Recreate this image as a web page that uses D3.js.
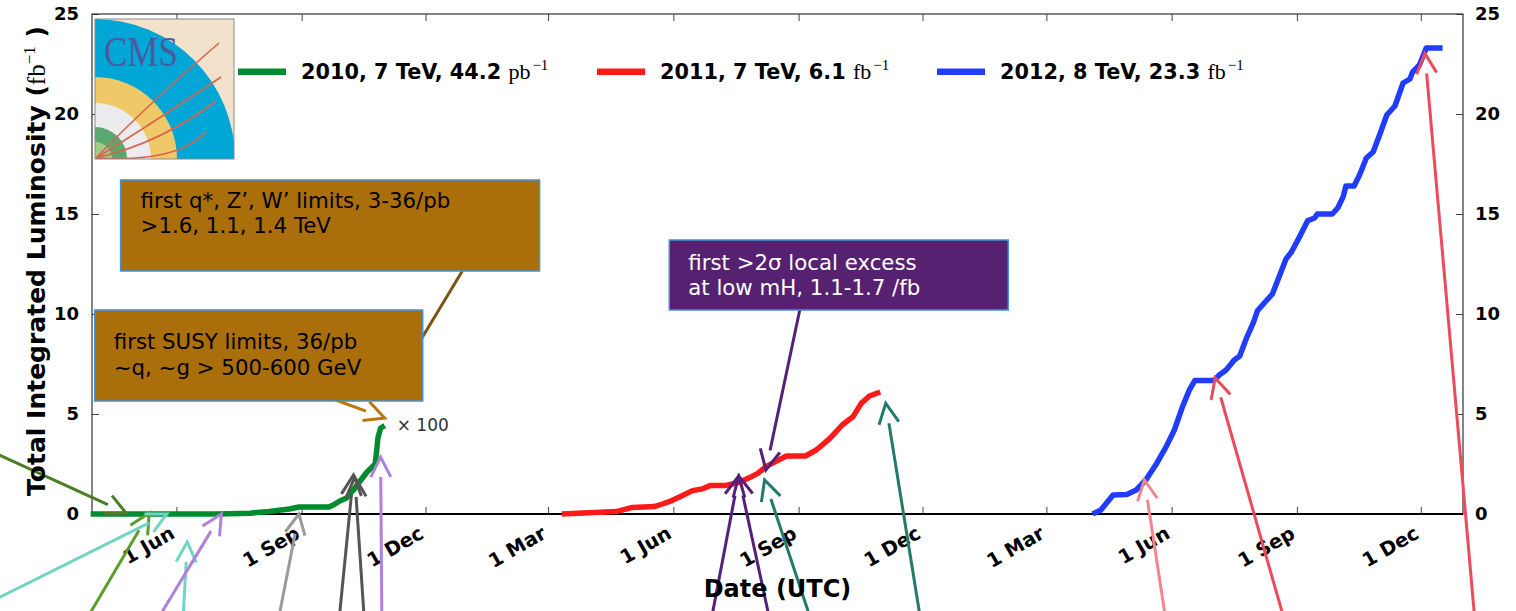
<!DOCTYPE html>
<html>
<head>
<meta charset="utf-8">
<script src="https://cdn.jsdelivr.net/npm/d3@7"></script>
<style>
  body { margin: 0; background: #fff; }
  svg { display: block; }
</style>
</head>
<body>
<svg id="chart" width="1516" height="611"></svg>
<script>
// ---- Cumulative luminosity delivered per year ----
const dates2010 = ["2010-03-30","2010-04-30","2010-05-31","2010-06-30","2010-07-10","2010-07-25","2010-08-08",
  "2010-08-23","2010-08-30","2010-09-21","2010-09-25","2010-09-29","2010-10-04","2010-10-09","2010-10-14",
  "2010-10-19","2010-10-25","2010-10-26","2010-10-27","2010-10-29","2010-11-01"];
const lumi2010pb = [0, 0.01, 0.02, 0.05, 0.1, 0.4, 1.3, 2.5, 3.5, 3.5, 4.8, 6.5, 8.0, 12.0, 16.5,
  21.0, 25.0, 31.0, 38.0, 43.0, 44.2];

const dates2011 = ["2011-03-11","2011-04-20","2011-05-02","2011-05-18","2011-05-24","2011-05-31","2011-06-07",
  "2011-06-15","2011-06-22","2011-06-28","2011-07-09","2011-07-19","2011-07-27","2011-08-02","2011-08-08",
  "2011-08-15","2011-08-23","2011-09-06","2011-09-14","2011-09-24","2011-10-03","2011-10-11","2011-10-17",
  "2011-10-23","2011-10-31"];
const lumi2011fb = [0, 0.12, 0.33, 0.37, 0.5, 0.67, 0.9, 1.17, 1.25, 1.42, 1.42, 1.58, 1.82, 2.03, 2.37,
  2.62, 2.9, 2.9, 3.2, 3.78, 4.45, 4.87, 5.53, 5.9, 6.1];

const dates2012 = ["2012-04-04","2012-04-10","2012-04-19","2012-04-29","2012-05-06","2012-05-13","2012-05-21",
  "2012-05-28","2012-06-03","2012-06-09","2012-06-14","2012-06-18","2012-07-02","2012-07-06","2012-07-11",
  "2012-07-17","2012-07-21","2012-07-26","2012-07-31","2012-08-03","2012-08-08","2012-08-14","2012-08-18",
  "2012-08-24","2012-08-28","2012-09-03","2012-09-09","2012-09-14","2012-09-16","2012-09-27","2012-10-01",
  "2012-10-05","2012-10-07","2012-10-13","2012-10-17","2012-10-22","2012-10-27","2012-11-01","2012-11-06",
  "2012-11-12","2012-11-18","2012-11-23","2012-11-25","2012-11-30","2012-12-05","2012-12-17"];
const lumi2012fb = [0, 0.2, 0.95, 0.98, 1.2, 1.7, 2.53, 3.37, 4.2, 5.37, 6.2, 6.67, 6.67, 6.95, 7.2,
  7.7, 7.9, 8.8, 9.57, 10.16, 10.55, 11.0, 11.7, 12.75, 13.1, 13.87, 14.67, 14.8, 15.0, 15.0, 15.3,
  15.87, 16.4, 16.4, 16.95, 17.8, 18.1, 19.0, 19.95, 20.4, 21.55, 21.75, 22.1, 22.45, 23.3, 23.3];

const runYears = ["2010", "2011", "2012"];
const runEnergies = ["7 TeV", "7 TeV", "8 TeV"];
const runUnits = ["pb", "fb", "fb"];

// 2010 is drawn in fb^-1 multiplied by this factor
const SCALE_2010 = 100;
const PB_PER_FB = 1000;

const xTickDates = ["2010-06-01","2010-09-01","2010-12-01","2011-03-01","2011-06-01","2011-09-01",
  "2011-12-01","2012-03-01","2012-06-01","2012-09-01","2012-12-01"];
const yTickValues = [0, 5, 10, 15, 20, 25];

// Annotation arrows: tail and tip as [date, luminosity]
const arrowTails = [
  ["2010-01-22", 2.95], ["2010-03-18", -6.3], ["2009-12-24", -5.15], ["2010-06-05", -6.3],
  ["2010-05-09", -6.3], ["2010-08-12", -6.3], ["2010-09-27", -6.3], ["2010-10-18", -6.3],
  ["2010-10-30", -6.3], ["2010-12-28", 12.15], ["2010-09-26", 5.7], ["2011-09-02", 10.25],
  ["2011-06-26", -6.3], ["2011-08-14", -6.3], ["2011-09-15", -6.3], ["2011-12-02", -6.3],
  ["2012-05-30", -6.3], ["2012-08-27", -6.3], ["2013-01-11", -6.3]
];
const arrowTips = [
  ["2010-04-25", 0.05], ["2010-05-12", 0.05], ["2010-05-25", 0.0], ["2010-06-09", -1.4],
  ["2010-07-04", 0.0], ["2010-08-30", 0.0], ["2010-10-09", 1.95], ["2010-10-10", 1.85],
  ["2010-10-29", 2.85], ["2010-11-23", 8.2], ["2010-11-01", 4.8], ["2011-08-08", 2.2],
  ["2011-07-19", 1.9], ["2011-07-19", 1.9], ["2011-08-07", 1.7], ["2011-11-04", 5.53],
  ["2012-05-12", 1.7], ["2012-07-03", 6.8], ["2012-12-04", 23.03]
];
const arrowColors = ["#4a7d26", "#5b9d2c", "#6fd6c6", "#6fd6c6", "#b17fdc", "#9a9a9a", "#555555",
  "#555555", "#b17fdc", "#7a5412", "#b7790f", "#55207a", "#55207a", "#55207a", "#23796a", "#23796a",
  "#f3858f", "#ec4b5b", "#ec4b5b"];
const arrowHasHead = arrowTips.map((d, i) => i !== 9);

// Text boxes: top-left corner as [date, luminosity]
const boxAnchors = [["2010-04-21", 16.7], ["2010-04-02", 10.2], ["2011-05-29", 13.7]];
const boxLines = [
  ["first q*, Z\u2019, W\u2019 limits, 3-36/pb", ">1.6, 1.1, 1.4 TeV"],
  ["first SUSY limits, 36/pb", "~q, ~g > 500-600 GeV"],
  ["first >2\u03c3 local excess", "at low mH, 1.1-1.7 /fb"]
];

// ---- Layout ----
const W = 1516, H = 611;
const plot = { left: 92, right: 1463, top: 14, bottom: 514 };
const FONT = "'DejaVu Sans', sans-serif";
const SERIF = "'Liberation Serif', 'DejaVu Serif', serif";

const parseDay = d3.utcParse("%Y-%m-%d");
const x = d3.scaleUtc()
  .domain([parseDay("2010-03-31"), parseDay("2013-01-01")])
  .range([plot.left, plot.right]);
const y = d3.scaleLinear().domain([0, 25]).range([plot.bottom, plot.top]);

const svg = d3.select("#chart");
svg.append("rect").attr("width", W).attr("height", H).attr("fill", "#fff");

const series = [
  { dates: dates2010, values: lumi2010pb.map(v => v / PB_PER_FB * SCALE_2010), total: lumi2010pb, color: "#008c2e" },
  { dates: dates2011, values: lumi2011fb, total: lumi2011fb, color: "#ff1a1a" },
  { dates: dates2012, values: lumi2012fb, total: lumi2012fb, color: "#1f3cff" }
];

// ---- Axes (inward ticks on all four sides) ----
const fmt = d3.utcFormat("%-d %b");
const xt = xTickDates.map(parseDay);

const gBottom = svg.append("g").attr("transform", `translate(0,${plot.bottom})`)
  .call(d3.axisBottom(x).tickValues(xt).tickSize(-7).tickFormat(fmt));
gBottom.select(".domain").remove();
gBottom.selectAll(".tick line").attr("stroke", "#444");
gBottom.selectAll(".tick text")
  .attr("font-family", FONT).attr("font-weight", "bold").attr("font-size", 19.5).attr("fill", "#000")
  .attr("text-anchor", "end").attr("x", 0).attr("y", 0).attr("dy", "0.72em")
  .attr("transform", "translate(-8,11) rotate(-30)");

const gTop = svg.append("g").attr("transform", `translate(0,${plot.top})`)
  .call(d3.axisTop(x).tickValues(xt).tickSize(-7).tickFormat(""));
gTop.select(".domain").remove();
gTop.selectAll(".tick line").attr("stroke", "#444");

const gLeft = svg.append("g").attr("transform", `translate(${plot.left},0)`)
  .call(d3.axisLeft(y).tickValues(yTickValues).tickSize(-7).tickPadding(13));
gLeft.select(".domain").remove();
gLeft.selectAll(".tick line").attr("stroke", "#444");
gLeft.selectAll(".tick text").attr("font-family", FONT).attr("font-weight", "bold")
  .attr("font-size", 18).attr("fill", "#000");

const gRight = svg.append("g").attr("transform", `translate(${plot.right},0)`)
  .call(d3.axisRight(y).tickValues(yTickValues).tickSize(-7).tickPadding(12));
gRight.select(".domain").remove();
gRight.selectAll(".tick line").attr("stroke", "#444");
gRight.selectAll(".tick text").attr("font-family", FONT).attr("font-weight", "bold")
  .attr("font-size", 18).attr("fill", "#000");

// frame
svg.append("rect")
  .attr("x", plot.left).attr("y", plot.top)
  .attr("width", plot.right - plot.left).attr("height", plot.bottom - plot.top)
  .attr("fill", "none").attr("stroke", "#333").attr("stroke-width", 1.2);
svg.append("line")
  .attr("x1", plot.left).attr("x2", plot.right)
  .attr("y1", y(0)).attr("y2", y(0))
  .attr("stroke", "#000").attr("stroke-width", 2.2);

// ---- Curves ----
const line = d3.line().x(d => x(d.date)).y(d => y(d.value));
series.forEach(s => {
  const pts = s.dates.map((d, i) => ({ date: parseDay(d), value: s.values[i] }));
  svg.append("path").datum(pts)
    .attr("d", line)
    .attr("fill", "none").attr("stroke", s.color)
    .attr("stroke-width", 5.5).attr("stroke-linejoin", "round").attr("stroke-linecap", "butt");
});

// "x 100" marker next to the end of the 2010 curve
const last2010 = series[0];
svg.append("text")
  .attr("x", x(parseDay(last2010.dates[last2010.dates.length - 1])) + 12)
  .attr("y", y(last2010.values[last2010.values.length - 1]) + 5)
  .attr("font-family", FONT).attr("font-size", 17).attr("fill", "#333")
  .text("\u00d7 " + SCALE_2010);

// ---- Arrows ----
const HEAD_LEN = 20, HEAD_HALF = 10;
arrowTails.forEach((t, i) => {
  const p0 = [x(parseDay(t[0])), y(t[1])];
  const p1 = [x(parseDay(arrowTips[i][0])), y(arrowTips[i][1])];
  const dx = p0[0] - p1[0], dy = p0[1] - p1[1];
  const len = Math.hypot(dx, dy);
  const ux = dx / len, uy = dy / len;
  const g = svg.append("g").attr("stroke", arrowColors[i]).attr("stroke-width", 3).attr("fill", "none");
  if (arrowHasHead[i]) {
    const base = [p1[0] + HEAD_LEN * ux, p1[1] + HEAD_LEN * uy];
    g.append("line").attr("x1", p0[0]).attr("y1", p0[1]).attr("x2", base[0]).attr("y2", base[1]);
    const b1 = [base[0] - HEAD_HALF * uy, base[1] + HEAD_HALF * ux];
    const b2 = [base[0] + HEAD_HALF * uy, base[1] - HEAD_HALF * ux];
    g.append("path").attr("d", `M${b1}L${p1}L${b2}`).attr("stroke-linejoin", "miter");
  } else {
    g.append("line").attr("x1", p0[0]).attr("y1", p0[1]).attr("x2", p1[0]).attr("y2", p1[1]);
  }
});

// ---- Annotation boxes ----
const boxSizes = [[419, 91], [328, 91], [339, 70]];
const boxFills = ["#aa6f0b", "#aa6f0b", "#562170"];
const boxText = ["#000", "#000", "#fff"];
const boxPad = [[20, 28], [19, 39], [19, 30]];
const boxLineGap = [24.5, 26, 24.5];
boxAnchors.forEach((a, i) => {
  const bx = x(parseDay(a[0])), by = y(a[1]);
  svg.append("rect").attr("x", bx).attr("y", by)
    .attr("width", boxSizes[i][0]).attr("height", boxSizes[i][1])
    .attr("fill", boxFills[i]).attr("stroke", "#3f93d6").attr("stroke-width", 1.5);
  boxLines[i].forEach((t, j) => {
    svg.append("text")
      .attr("x", bx + boxPad[i][0]).attr("y", by + boxPad[i][1] + j * boxLineGap[i])
      .attr("font-family", FONT).attr("font-size", 21.3).attr("fill", boxText[i])
      .text(t);
  });
});

// ---- CMS logo ----
const logo = svg.append("g").attr("transform", "translate(95,19)");
logo.append("clipPath").attr("id", "logoClip").append("rect").attr("width", 139).attr("height", 140);
const lg = logo.append("g").attr("clip-path", "url(#logoClip)");
lg.append("rect").attr("width", 139).attr("height", 140).attr("fill", "#f3e2cb");
[[140, "#00a6d6"], [82, "#efc868"], [56, "#ececef"], [32, "#5aa870"], [17, "#9fcf86"]].forEach(c => {
  lg.append("circle").attr("cx", 0).attr("cy", 140).attr("r", c[0]).attr("fill", c[1]);
});
[[[50, 88], [124, 24]], [[58, 104], [126, 58]], [[66, 124], [121, 82]], [[82, 144], [111, 113]]]
  .forEach(tr => {
    lg.append("path").attr("d", `M1,139Q${tr[0]} ${tr[1]}`)
      .attr("fill", "none").attr("stroke", "#d8644c").attr("stroke-width", 1.6);
  });
lg.append("text").attr("x", 9).attr("y", 47).attr("font-family", SERIF)
  .attr("font-size", 42).attr("fill", "#4a5a9e")
  .attr("textLength", 74).attr("lengthAdjust", "spacingAndGlyphs").text("CMS");
logo.append("rect").attr("width", 139).attr("height", 140)
  .attr("fill", "none").attr("stroke", "#8a8a8a").attr("stroke-width", 1);

// ---- Legend ----
const legendX = [238, 597, 937];
const legendY = 71.7;
series.forEach((s, i) => {
  svg.append("line").attr("x1", legendX[i]).attr("x2", legendX[i] + 48)
    .attr("y1", legendY).attr("y2", legendY)
    .attr("stroke", s.color).attr("stroke-width", 6.5);
  const t = svg.append("text").attr("x", legendX[i] + 63).attr("y", legendY + 7.5)
    .attr("font-family", FONT).attr("font-size", 20.8).attr("fill", "#000");
  t.append("tspan").attr("font-weight", "bold")
    .text(`${runYears[i]}, ${runEnergies[i]}, ${d3.format(".1f")(s.total[s.total.length - 1])} `);
  t.append("tspan").attr("font-family", SERIF).attr("font-size", 22).text(runUnits[i]);
  t.append("tspan").attr("font-family", SERIF).attr("font-size", 15).attr("dx", 2).attr("dy", -9).text("\u22121");
});

// ---- Axis titles ----
svg.append("text")
  .attr("x", (plot.left + plot.right) / 2).attr("y", 597)
  .attr("text-anchor", "middle").attr("font-family", FONT).attr("font-weight", "bold")
  .attr("font-size", 24).text("Date (UTC)");

const yl = svg.append("text")
  .attr("transform", `translate(45,${(plot.top + plot.bottom) / 2 - 3}) rotate(-90)`)
  .attr("text-anchor", "middle").attr("font-family", FONT).attr("font-size", 25);
yl.append("tspan").attr("font-weight", "bold").text("Total Integrated Luminosity (");
yl.append("tspan").attr("font-family", SERIF).text("fb");
yl.append("tspan").attr("font-family", SERIF).attr("font-size", 17).attr("dy", -10).text("\u22121");
yl.append("tspan").attr("font-weight", "bold").attr("dy", 10).text(" )");
</script>
</body>
</html>
